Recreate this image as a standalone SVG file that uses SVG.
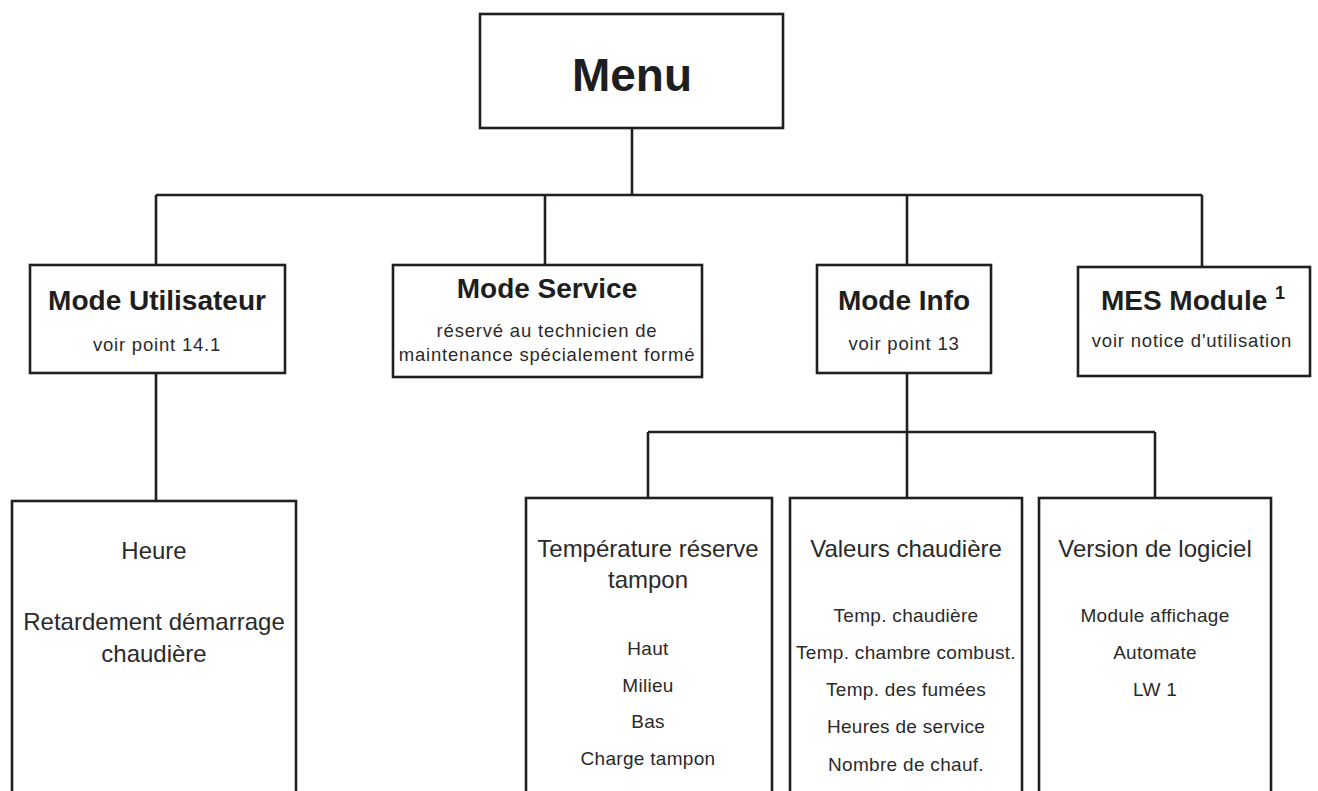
<svg xmlns="http://www.w3.org/2000/svg" width="1318" height="791" viewBox="0 0 1318 791">
<style>
.box{fill:#fff;stroke:#231f20;stroke-width:2.6}
.ln{fill:none;stroke:#231f20;stroke-width:2.6}
text{font-family:"Liberation Sans",Arial,sans-serif;fill:#2a2a2a;text-anchor:middle}
.t{font-weight:bold;font-size:28px;fill:#1e1e1e}
.s{font-size:18.5px;letter-spacing:0.8px}
.h{font-size:24px}
.i{font-size:19px;letter-spacing:0.3px}
</style>
<rect width="1318" height="791" fill="#fff"/>
<g id="connectors">
<path class="ln" d="M632 128V195M156 195H1202M156 195V265M545 195V265M907 195V265M1202 195V267"/>
<path class="ln" d="M156 373V501"/>
<path class="ln" d="M907 373V498M648 432H1155M648 432V498M1155 432V498"/>
</g>
<g id="menu">
<rect class="box" x="480" y="14" width="303" height="114"/>
<text x="632" y="91" style="font-weight:bold;font-size:46px;fill:#1e1e1e">Menu</text>
</g>
<g id="mode-utilisateur">
<rect class="box" x="30" y="265" width="255" height="108"/>
<text class="t" x="157" y="310">Mode Utilisateur</text>
<text class="s" x="157" y="351">voir point 14.1</text>
</g>
<g id="mode-service">
<rect class="box" x="393" y="265" width="309" height="112"/>
<text class="t" x="547" y="298">Mode Service</text>
<text class="s" x="547" y="337">réservé au technicien de</text>
<text class="s" x="547" y="361">maintenance spécialement formé</text>
</g>
<g id="mode-info">
<rect class="box" x="817" y="265" width="174" height="108"/>
<text class="t" x="904" y="310">Mode Info</text>
<text class="s" x="904" y="350">voir point 13</text>
</g>
<g id="mes-module">
<rect class="box" x="1078" y="267" width="232" height="109"/>
<text class="t" x="1193" y="310">MES Module <tspan font-size="18" dy="-11">1</tspan></text>
<text class="s" x="1192" y="347">voir notice d'utilisation</text>
</g>
<g id="utilisateur-items">
<rect class="box" x="12" y="501" width="284" height="300"/>
<text class="h" x="154" y="559">Heure</text>
<text class="h" x="154" y="630">Retardement démarrage</text>
<text class="h" x="154" y="662">chaudière</text>
</g>
<g id="temperature-reserve">
<rect class="box" x="526" y="498" width="246" height="303"/>
<text class="h" x="648" y="557">Température réserve</text>
<text class="h" x="648" y="588">tampon</text>
<text class="i" x="648" y="655">Haut</text>
<text class="i" x="648" y="692">Milieu</text>
<text class="i" x="648" y="728">Bas</text>
<text class="i" x="648" y="765">Charge tampon</text>
</g>
<g id="valeurs-chaudiere">
<rect class="box" x="790" y="498" width="232" height="303"/>
<text class="h" x="906" y="557">Valeurs chaudière</text>
<text class="i" x="906" y="622">Temp. chaudière</text>
<text class="i" x="906" y="659">Temp. chambre combust.</text>
<text class="i" x="906" y="696">Temp. des fumées</text>
<text class="i" x="906" y="733">Heures de service</text>
<text class="i" x="906" y="771">Nombre de chauf.</text>
</g>
<g id="version-logiciel">
<rect class="box" x="1039" y="498" width="232" height="303"/>
<text class="h" x="1155" y="557">Version de logiciel</text>
<text class="i" x="1155" y="622">Module affichage</text>
<text class="i" x="1155" y="659">Automate</text>
<text class="i" x="1155" y="696">LW 1</text>
</g>
</svg>
